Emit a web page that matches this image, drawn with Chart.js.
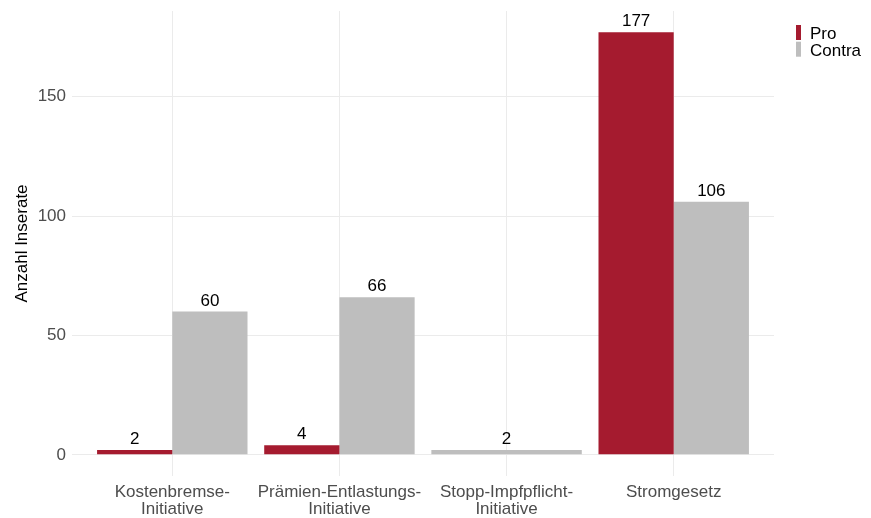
<!DOCTYPE html>
<html>
<head>
<meta charset="utf-8">
<script src="https://cdn.jsdelivr.net/npm/chart.js@4/dist/chart.umd.min.js"></script>
<style>
  html, body { margin: 0; padding: 0; background: #fff; }
  #wrap { width: 871px; height: 518px; position: relative; }
</style>
</head>
<body>
<div id="wrap"><canvas id="chart"></canvas></div>
<script>
// data
const categories = [
    ['Kostenbremse-', 'Initiative'],
    ['Prämien-Entlastungs-', 'Initiative'],
    ['Stopp-Impfpflicht-', 'Initiative'],
    'Stromgesetz'
];
const proValues = [2, 4, null, 177];
const contraValues = [60, 66, 2, 106];
const yTicks = [0, 50, 100, 150];

const FONT = '"Liberation Sans", Arial, sans-serif';
const RED = '#A51B2F';
const GREY = '#BEBEBE';

// value labels above each bar
const barLabels = {
    id: 'barLabels',
    afterDatasetsDraw(chart) {
        const ctx = chart.ctx;
        ctx.save();
        ctx.font = '17px ' + FONT;
        ctx.fillStyle = '#000';
        ctx.textAlign = 'center';
        ctx.textBaseline = 'alphabetic';
        chart.data.datasets.forEach((ds, i) => {
            const meta = chart.getDatasetMeta(i);
            meta.data.forEach((bar, j) => {
                const v = ds.data[j];
                if (v === null || v === undefined) return;
                ctx.fillText(String(v), bar.x, bar.y - 6);
            });
        });
        ctx.restore();
    }
};

// ggplot-like legend in the right margin
const sideLegend = {
    id: 'sideLegend',
    afterDraw(chart) {
        const ctx = chart.ctx;
        const x = chart.chartArea.right + 22;
        ctx.save();
        ctx.font = '17px ' + FONT;
        ctx.textBaseline = 'alphabetic';
        ctx.textAlign = 'left';
        chart.data.datasets.forEach((ds, i) => {
            const top = 25 + i * 16.7;
            ctx.fillStyle = ds.backgroundColor;
            ctx.fillRect(x, top, 5, 15);
            ctx.fillStyle = '#000';
            ctx.fillText(ds.label, x + 14, top + 14);
        });
        ctx.restore();
    }
};

new Chart(document.getElementById('chart'), {
    type: 'bar',
    data: {
        labels: categories,
        datasets: [
            { label: 'Pro', data: proValues, backgroundColor: RED },
            { label: 'Contra', data: contraValues, backgroundColor: GREY }
        ]
    },
    options: {
        responsive: true,
        maintainAspectRatio: false,
        animation: false,
        skipNull: true,
        datasets: {
            bar: { barPercentage: 1, categoryPercentage: 0.9 }
        },
        layout: { padding: { top: 11, right: 97, left: 0, bottom: 0 } },
        plugins: {
            legend: { display: false },
            tooltip: { enabled: false }
        },
        scales: {
            x: {
                offset: true,
                // ggplot style padding of 0.6 category on each side
                afterBuildTicks: scale => {
                    scale._startValue = -0.6;
                    scale._valueRange = categories.length + 0.2;
                },
                afterFit: scale => { scale.height = 42; },
                grid: { offset: false, color: '#EBEBEB', lineWidth: 1, drawTicks: false },
                border: { display: false },
                ticks: {
                    color: '#4D4D4D',
                    padding: 8,
                    maxRotation: 0,
                    autoSkip: false,
                    font: { family: FONT, size: 17, lineHeight: 1.0 }
                }
            },
            y: {
                min: -8.85,
                max: 185.85,
                afterBuildTicks: scale => {
                    scale.ticks = yTicks.map(v => ({ value: v }));
                },
                afterFit: scale => {
                    scale.width = 72;
                    scale.paddingTop = 0;
                    scale.paddingBottom = 0;
                },
                grid: { color: '#EBEBEB', lineWidth: 1, drawTicks: false },
                border: { display: false },
                ticks: {
                    color: '#4D4D4D',
                    padding: 6,
                    font: { family: FONT, size: 17 }
                },
                title: {
                    display: true,
                    text: 'Anzahl Inserate',
                    color: '#000',
                    padding: { top: 12, bottom: 0 },
                    font: { family: FONT, size: 17 }
                }
            }
        }
    },
    plugins: [barLabels, sideLegend]
});
</script>
</body>
</html>
